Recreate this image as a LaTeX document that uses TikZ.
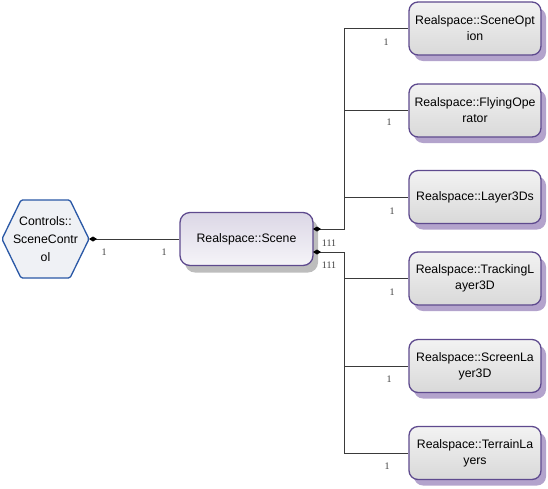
\documentclass[tikz,border=0pt]{standalone}
\usepackage{fontspec}
\setmainfont{Liberation Sans}
\newfontfamily\lblfont{Liberation Serif}
\usetikzlibrary{shadows,arrows.meta,calc}
\definecolor{boxpurple}{HTML}{5E4A8E}
\definecolor{shpurple}{HTML}{B3A3CC}
\definecolor{shgray}{HTML}{BDBDBD}
\definecolor{hexblue}{HTML}{2A58A6}
\definecolor{hexfill}{HTML}{EFF1F5}
\definecolor{linecol}{HTML}{3A3A3A}
\begin{document}
\begin{tikzpicture}[x=1pt,y=-1pt,
  member/.style={draw=boxpurple, line width=1.3pt, rounded corners=9pt,
    top color=white!95!black, bottom color=black!15,
    minimum width=132pt, minimum height=53pt, align=center, inner sep=0pt,
    font=\fontsize{12.3}{16}\selectfont,
    drop shadow={shadow xshift=5pt, shadow yshift=-6pt, fill=shpurple, opacity=1}},
  mainbox/.style={draw=boxpurple, line width=1.3pt, rounded corners=10pt,
    top color=boxpurple!22, bottom color=boxpurple!6,
    minimum width=133pt, minimum height=53pt, align=center, inner sep=0pt,
    font=\fontsize{12.3}{16}\selectfont,
    drop shadow={shadow xshift=5pt, shadow yshift=-7pt, fill=shgray, opacity=1}},
  hexshape/.style={draw=hexblue, line width=1.3pt, fill=hexfill, rounded corners=1.5pt},
  hextext/.style={align=center, inner sep=0pt, font=\fontsize{12.3}{18}\selectfont},
  conn/.style={draw=linecol, line width=0.9pt},
  dia/.style={conn, {Diamond[length=8pt,width=5pt,fill=black,color=black]}-},
  mult/.style={font=\lblfont\fontsize{10}{10}\selectfont, text=black!75, inner sep=0pt}
]
\useasboundingbox (0,0) rectangle (548,488);

% hexagon
\draw[hexshape] (2,239) -- (21,200) -- (70,200) -- (89,239) -- (70,278) -- (21,278) -- cycle;
\node[hextext] (ctrl) at (45.5,239) {Controls::\\SceneContr\\ol};
\coordinate (ctrlR) at (89,239);

% main box
\node[mainbox] (scene) at (246.5,239) {Realspace::Scene};
\coordinate (sceneU) at (313,229);
\coordinate (sceneL) at (313,252);
\coordinate (bus) at (344,238);

% member boxes
\node[member] (opt) at (475,28.5) {Realspace::SceneOpt\\ion};
\node[member] (fly) at (475,110.5) {Realspace::FlyingOpe\\rator};
\node[member] (lay) at (475,197) {Realspace::Layer3Ds};
\node[member] (trk) at (475,278.5) {Realspace::TrackingL\\ayer3D};
\node[member] (scr) at (475,366) {Realspace::ScreenLa\\yer3D};
\node[member] (ter) at (475,453) {Realspace::TerrainLa\\yers};

% connectors
\draw[dia] (ctrlR) -- (scene.west |- ctrlR);
\draw[dia] (sceneU) -| (opt.west -| bus) -- (opt.west);
\draw[conn] (fly.west -| bus) -- (fly.west);
\draw[conn] (lay.west -| bus) -- (lay.west);
\draw[dia] (sceneL) -| (ter.west -| bus) -- (ter.west);
\draw[conn] (trk.west -| bus) -- (trk.west);
\draw[conn] (scr.west -| bus) -- (scr.west);

% multiplicities
\node[mult] (m1) at (104,252) {1};
\node[mult] (m2) at (164,252) {1};
\node[mult] (m3) at (329,243) {111};
\node[mult] (m4) at (329,265) {111};
\node[mult] (m5) at (386,42) {1};
\node[mult] (m6) at (389,122) {1};
\node[mult] (m7) at (392,211) {1};
\node[mult] (m8) at (392,292) {1};
\node[mult] (m9) at (389,379) {1};
\node[mult] (m10) at (387,466) {1};
\end{tikzpicture}
\end{document}
